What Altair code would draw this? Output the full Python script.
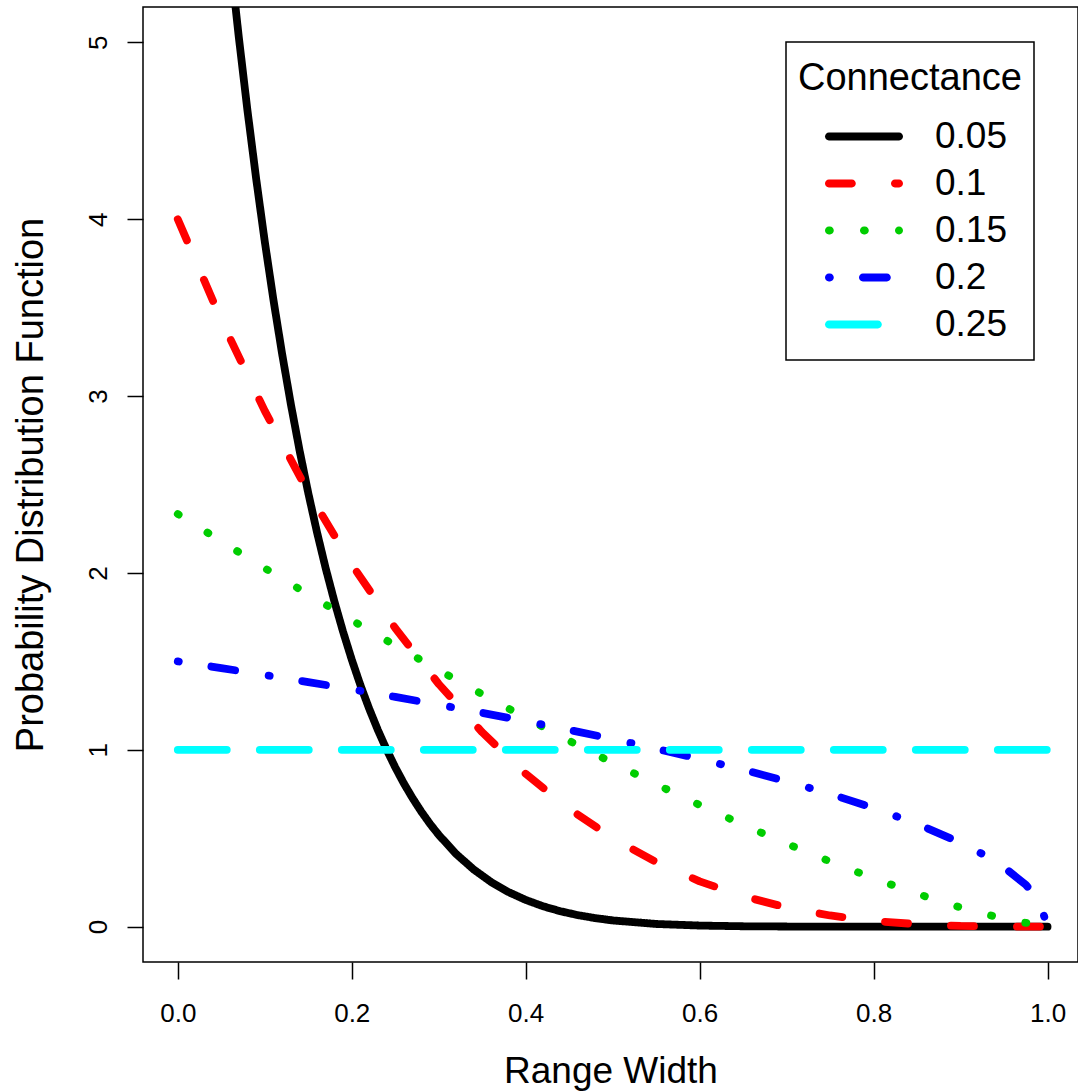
import altair as alt
import pandas as pd

# ---- data ----
series_labels = ["0.05", "0.1", "0.15", "0.2", "0.25"]
colors = ["#000000", "#FF0000", "#00CD00", "#0000FF", "#00FFFF"]
dashes = [[1, 0], [23, 43], [1, 34], [1, 33, 24, 34], [49, 33]]

x_black = [0.05, 0.06, 0.07, 0.08, 0.09, 0.10, 0.11, 0.12, 0.13, 0.14, 0.15,
           0.16, 0.17, 0.18, 0.19, 0.20, 0.21, 0.22, 0.23, 0.24, 0.25, 0.26,
           0.27, 0.28, 0.29, 0.30, 0.32, 0.34, 0.36, 0.38, 0.40, 0.42, 0.44,
           0.46, 0.48, 0.50, 0.55, 0.60, 0.65, 0.70, 0.75, 0.80, 0.90, 1.00]
y_black = [5.971, 5.486, 5.036, 4.619, 4.233, 3.874, 3.543, 3.237, 2.954, 2.693, 2.452,
           2.231, 2.027, 1.840, 1.668, 1.510, 1.365, 1.233, 1.112, 1.002, 0.901, 0.809,
           0.726, 0.650, 0.581, 0.519, 0.411, 0.324, 0.253, 0.196, 0.151, 0.115, 0.087,
           0.065, 0.048, 0.035, 0.015, 0.006, 0.002, 0.0006, 0.0001, 0.0, 0.0, 0.0]

x_std = [0.0, 0.05, 0.10, 0.15, 0.20, 0.25, 0.30, 0.35, 0.40, 0.45, 0.50,
         0.55, 0.60, 0.65, 0.70, 0.75, 0.80, 0.85, 0.90, 0.95, 1.00]
y_red = [4.0, 3.430, 2.916, 2.457, 2.048, 1.688, 1.372, 1.099, 0.864, 0.666, 0.500,
         0.365, 0.256, 0.172, 0.108, 0.063, 0.032, 0.014, 0.004, 0.0005, 0.0]
y_green = [2.333, 2.179, 2.027, 1.879, 1.733, 1.590, 1.450, 1.314, 1.181, 1.051, 0.926,
           0.805, 0.688, 0.576, 0.469, 0.368, 0.273, 0.186, 0.108, 0.043, 0.0]

x_blue = [0.0, 0.05, 0.10, 0.15, 0.20, 0.25, 0.30, 0.35, 0.40, 0.45, 0.50,
          0.55, 0.60, 0.65, 0.70, 0.75, 0.80, 0.85, 0.90, 0.925, 0.95, 0.975, 0.99, 1.00]
y_blue = [1.500, 1.462, 1.423, 1.383, 1.342, 1.299, 1.255, 1.209, 1.162, 1.112, 1.061,
          1.006, 0.949, 0.887, 0.822, 0.750, 0.671, 0.581, 0.474, 0.411, 0.335, 0.237, 0.150, 0.0]

x_cyan = [0.0, 1.0]
y_cyan = [1.0, 1.0]

x_ticks = [0.0, 0.2, 0.4, 0.6, 0.8, 1.0]
y_ticks = [0, 1, 2, 3, 4, 5]

rows = []
for lab, xs, ys in [("0.05", x_black, y_black), ("0.1", x_std, y_red),
                    ("0.15", x_std, y_green), ("0.2", x_blue, y_blue),
                    ("0.25", x_cyan, y_cyan)]:
    for xv, yv in zip(xs, ys):
        rows.append({"x": xv, "y": yv, "series": lab})
df = pd.DataFrame(rows)

FONT = "Liberation Sans"
LW = 7.8
SYM_LEN = 78.0  # legend sample length in px (incl. round caps)


def legend_path(pattern, length=SYM_LEN, thick=LW):
    """Legend sample as filled capsules that mimic a round-capped dashed stroke."""
    half = length / 2.0
    h = thick / 2.0
    start, end = h, length - h
    segs = []
    if sum(pattern[1::2]) == 0:
        segs.append((start, end))
    else:
        p = start
        i = 0
        while p <= end:
            d = pattern[i % len(pattern)]
            g = pattern[(i + 1) % len(pattern)]
            segs.append((p, min(p + d, end)))
            p += d + g
            i += 2
    hu = h / half
    out = []
    for a, b in segs:
        x1 = a / half - 1.0
        x2 = max(b / half - 1.0, x1)
        out.append(
            f"M{x1:.4f},{-hu:.4f}L{x2:.4f},{-hu:.4f}"
            f"A{hu:.4f},{hu:.4f} 0 0 1 {x2:.4f},{hu:.4f}"
            f"L{x1:.4f},{hu:.4f}"
            f"A{hu:.4f},{hu:.4f} 0 0 1 {x1:.4f},{-hu:.4f}Z"
        )
    return "".join(out)


legend_shapes = [legend_path(p) for p in dashes]

legend = alt.Legend(
    title="Connectance", orient="none", legendX=643, legendY=35,
    strokeColor="black", padding=12,
    titleFontSize=38, titleFontWeight="normal", titleFont=FONT, titleColor="black",
    titleAnchor="start", titleBaseline="line-top", titleLineHeight=50, titlePadding=21,
    titleLimit=500,
    symbolSize=SYM_LEN * SYM_LEN, symbolStrokeWidth=0, symbolOpacity=1,
    labelFontSize=37, labelFont=FONT, labelColor="black", labelLimit=300,
    labelOffset=32, symbolOffset=27, clipHeight=47, rowPadding=0,
)

x_enc = alt.X("x:Q", title="Range Width",
              scale=alt.Scale(domain=[-0.04, 1.035], nice=False, zero=False),
              axis=alt.Axis(values=x_ticks, format=".1f", tickSize=17, tickWidth=1.5,
                            labelFontSize=26, labelPadding=21, labelFlush=False,
                            labelOverlap=False, titleFontSize=37,
                            titleBaseline="alphabetic", titleY=120))
y_enc = alt.Y("y:Q", title="Probability Distribution Function",
              scale=alt.Scale(domain=[-0.2, 5.2], nice=False, zero=False),
              axis=alt.Axis(values=y_ticks, format="d", tickSize=16, tickWidth=1.5,
                            labelFontSize=26, labelAngle=-90, labelAlign="center",
                            labelBaseline="alphabetic", labelPadding=21,
                            labelFlush=False, labelOverlap=False,
                            titleFontSize=38, titleAngle=270, titleAlign="center",
                            titleBaseline="alphabetic", titleX=-101, titleY=477.5))

lines = alt.Chart(df).mark_line(
    clip=True, strokeWidth=LW, strokeCap="round", strokeJoin="round"
).encode(
    x=x_enc, y=y_enc,
    color=alt.Color("series:N", sort=series_labels,
                    scale=alt.Scale(domain=series_labels, range=colors), legend=None),
    strokeDash=alt.StrokeDash("series:N", sort=series_labels,
                              scale=alt.Scale(domain=series_labels, range=dashes), legend=None),
)

# legend-only layer: no rows survive the filter, the legend comes from the fixed domains
legend_layer = alt.Chart(df).transform_filter("datum.x > 100").mark_point(
    filled=True, opacity=1, size=SYM_LEN * SYM_LEN
).encode(
    x=alt.X("x:Q"), y=alt.Y("y:Q"),
    color=alt.Color("series:N", sort=series_labels,
                    scale=alt.Scale(domain=series_labels, range=colors), legend=legend),
    shape=alt.Shape("series:N", sort=series_labels,
                    scale=alt.Scale(domain=series_labels, range=legend_shapes), legend=legend),
)

chart = alt.layer(lines, legend_layer).resolve_scale(
    color="independent", shape="independent", strokeDash="independent"
).resolve_legend(
    color="independent", shape="independent", strokeDash="independent"
).properties(
    width=935, height=955,
    padding={"left": 143, "top": 7, "right": 0, "bottom": 129},
    autosize=alt.AutoSizeParams(type="none"),
    background="white",
).configure_view(
    stroke="black", strokeWidth=1.5
).configure_axis(
    domain=False, grid=False, tickColor="black", labelColor="black", titleColor="black",
    labelFont=FONT, titleFont=FONT, titleFontWeight="normal"
).configure_legend(
    strokeWidth=1.5
)

chart.save("out.html", embed_options={"renderer": "svg", "actions": False})
